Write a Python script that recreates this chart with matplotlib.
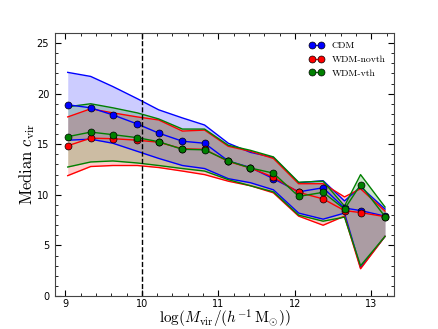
import numpy as np
import matplotlib
matplotlib.use('Agg')
from matplotlib import pyplot as plt
from matplotlib.ticker import MultipleLocator

plt.rcParams['mathtext.fontset'] = 'cm'

# mass bins, log(Mvir)
logm = [9.03, 9.33, 9.62, 9.94, 10.22, 10.53, 10.82, 11.13, 11.42, 11.72, 12.05, 12.37, 12.65, 12.86, 13.18]

# CDM
cdm_med = [18.9, 18.6, 17.9, 17.0, 16.1, 15.3, 15.1, 13.35, 12.7, 11.6, 10.3, 10.7, 8.7, 8.45, 7.9]
cdm_hi = [22.1, 21.7, 20.7, 19.5, 18.4, 17.6, 16.9, 15.1, 14.2, 13.7, 11.2, 11.4, 9.4, 10.8, 8.6]
cdm_lo = [15.4, 15.5, 15.1, 14.3, 13.6, 12.9, 12.6, 11.6, 11.2, 10.5, 8.2, 7.6, 8.2, 2.8, 5.9]

# WDM without thermal velocities
novth_med = [14.85, 15.6, 15.55, 15.4, 15.2, 14.55, 14.5, 13.3, 12.65, 11.75, 10.25, 9.6, 8.45, 8.25, 7.85]
novth_hi = [17.7, 18.5, 18.1, 17.7, 17.4, 16.3, 16.4, 14.8, 14.3, 13.6, 11.1, 11.1, 9.8, 10.6, 8.4]
novth_lo = [11.9, 12.8, 12.9, 12.9, 12.7, 12.35, 12.0, 11.35, 10.9, 10.2, 7.9, 7.0, 7.9, 2.7, 5.9]

# WDM with thermal velocities
vth_med = [15.75, 16.2, 15.95, 15.65, 15.25, 14.5, 14.45, 13.35, 12.65, 12.15, 9.85, 10.25, 8.6, 11.0, 7.85]
vth_hi = [18.7, 19.0, 18.6, 18.1, 17.5, 16.5, 16.5, 14.9, 14.4, 13.75, 11.25, 11.35, 8.9, 12.0, 8.8]
vth_lo = [12.75, 13.25, 13.35, 13.15, 12.9, 12.6, 12.35, 11.5, 10.9, 10.3, 8.0, 7.4, 7.8, 3.0, 5.9]

runs = [('CDM', 'b', cdm_med, cdm_lo, cdm_hi),
        ('WDM-novth', 'r', novth_med, novth_lo, novth_hi),
        ('WDM-vth', 'g', vth_med, vth_lo, vth_hi)]

fig = plt.figure(figsize=(4.38, 3.29), dpi=100)
ax = fig.add_subplot(111)
plt.subplots_adjust(left=0.125, right=0.9, bottom=0.1, top=0.9)

# shaded scatter bands
for name, c, med, lo, hi in runs:
    ax.fill_between(logm, lo, hi, color=c, alpha=0.2, lw=0)
    ax.plot(logm, hi, color=c, lw=1)
    ax.plot(logm, lo, color=c, lw=1)
# medians
for name, c, med, lo, hi in runs:
    ax.plot(logm, med, color=c, lw=1, marker='o', ms=5, mec='k', mew=0.5, label=name)

ax.axvline(10, color='k', ls='--', lw=1)

ax.set_xlim(8.86, 13.3)
ax.set_ylim(0, 26)
ax.xaxis.set_major_locator(MultipleLocator(1))
ax.xaxis.set_minor_locator(MultipleLocator(0.2))
ax.yaxis.set_minor_locator(MultipleLocator(1))
ax.tick_params(which='both', direction='in', top=True, right=True, labelsize=7)
ax.tick_params(which='major', length=4, pad=4)
ax.tick_params(axis='x', which='major', pad=2)
ax.tick_params(which='minor', length=2)
for s in ax.spines.values():
    s.set_color('#444444')

ax.set_xlabel(r'$\log(M_{\rm vir}/(h^{-1}\,{\rm M}_{\odot}))$', fontsize=11, labelpad=-1)
ax.set_ylabel(r'$\mathrm{Median}\ c_{\rm vir}$', fontsize=12, labelpad=0)

leg = ax.legend(loc='upper right', frameon=False, numpoints=2, handlelength=1.5,
                prop={'family': 'cmr10', 'size': 7})

plt.savefig('out.png')
